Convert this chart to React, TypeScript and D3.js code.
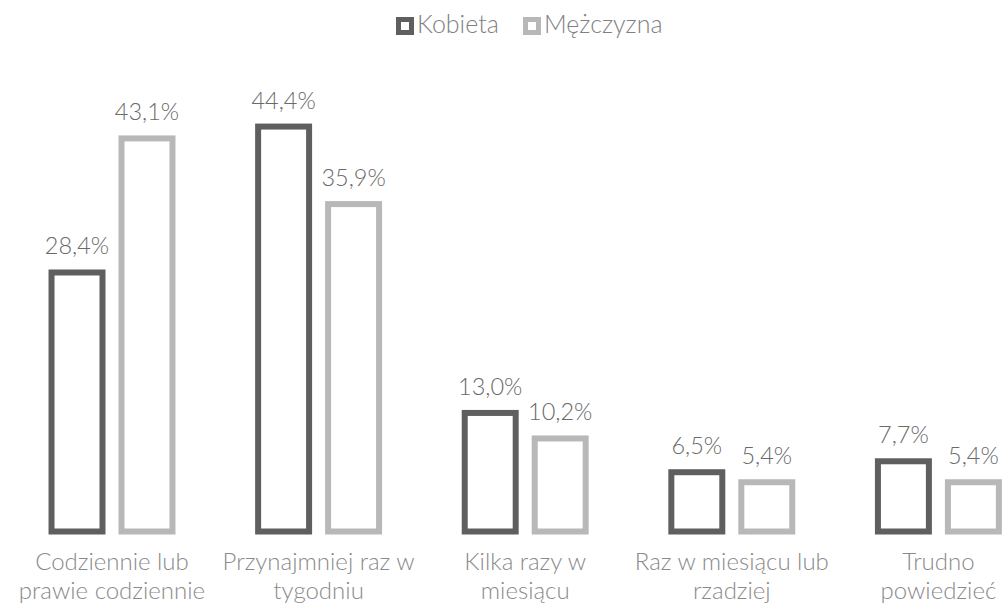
import React from "react";
import * as d3 from "d3";

const categories: string[][] = [
  ["Codziennie lub", "prawie codziennie"],
  ["Przynajmniej raz w", "tygodniu"],
  ["Kilka razy w", "miesiącu"],
  ["Raz w miesiącu lub", "rzadziej"],
  ["Trudno", "powiedzieć"],
];
const seriesNames = ["Kobieta", "Mężczyzna"];
const kobieta = [28.4, 44.4, 13.0, 6.5, 7.7];
const mezczyzna = [43.1, 35.9, 10.2, 5.4, 5.4];
const colors = ["#5f5f5f", "#b8b8b8"];

const W = 1005;
const H = 605;
const FONT = "Lato, 'Open Sans', sans-serif";

export default function App() {
  const series = [kobieta, mezczyzna];
  const keys = categories.map((c) => c.join(" "));
  const x0 = d3.scaleBand<string>().domain(keys).range([8.7, 1041.7]).padding(0);
  const x1 = d3
    .scaleBand<string>()
    .domain(seriesNames)
    .range([0, x0.bandwidth()])
    .paddingInner(0.186)
    .paddingOuter(0.569);
  const y = d3.scaleLinear().domain([0, 50]).range([531.5, 75.5]);
  const sw = 6;
  const fmt = (v: number) => v.toFixed(1).replace(".", ",") + "%";
  const legendX = [396, 523];

  return (
    <svg
      width={W}
      height={H}
      style={{ position: "absolute", left: 0, top: 0, background: "#fff" }}
      fontFamily={FONT}
    >
      {/* legend */}
      <g>
        {seriesNames.map((s, i) => {
          const lx = legendX[i];
          return (
            <g key={s}>
              <rect x={lx + 2.5} y={19.5} width={13} height={13} fill="#fff" stroke={colors[i]} strokeWidth={5} />
              <text x={lx + 21} y={33} fontSize={25} fill="#808080" fontWeight={300}>
                {s}
              </text>
            </g>
          );
        })}
      </g>
      {keys.map((k, ci) => (
        <g key={k} transform={`translate(${x0(k)},0)`}>
          {seriesNames.map((s, si) => {
            const v = series[si][ci];
            const bx = x1(s)!;
            const bw = x1.bandwidth();
            return (
              <g key={s}>
                <rect
                  x={bx + sw / 2}
                  y={y(v)}
                  width={bw - sw}
                  height={y(0) - y(v)}
                  fill="#fff"
                  stroke={colors[si]}
                  strokeWidth={sw}
                />
                <text
                  x={bx + bw / 2}
                  y={y(v) - sw / 2 - 15}
                  textAnchor="middle"
                  fontSize={23.5}
                  fill="#6a6a6a"
                  fontWeight={300}
                >
                  {fmt(v)}
                </text>
              </g>
            );
          })}
          {categories[ci].map((line, li) => (
            <text
              key={li}
              x={x0.bandwidth() / 2}
              y={570 + li * 29}
              textAnchor="middle"
              fontSize={24}
              fill="#8a8a8a"
              fontWeight={300}
            >
              {line}
            </text>
          ))}
        </g>
      ))}
    </svg>
  );
}
